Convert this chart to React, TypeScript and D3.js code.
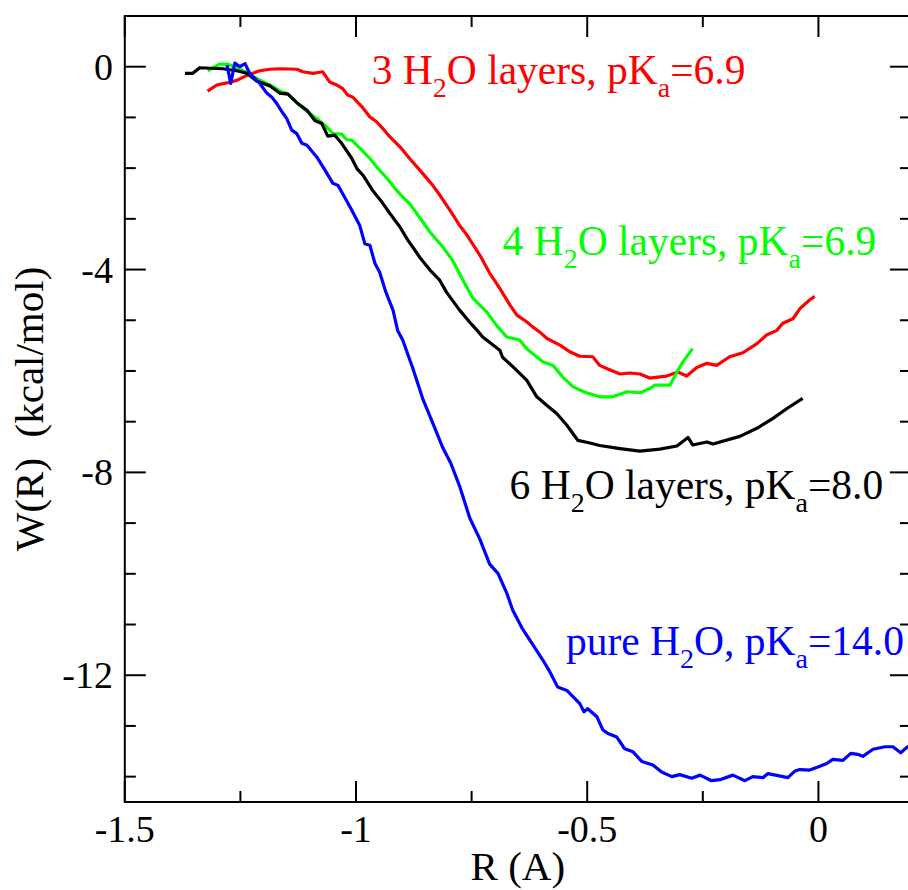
import React from 'react';
import * as d3 from 'd3';

const FONT = "'Liberation Serif'";

// ---- axis ticks ----
const xTickValues = [-1.5, -1, -0.5, 0];
const xTickLabels = ['-1.5', '-1', '-0.5', '0'];
const xMinorValues = [-1.25, -0.75, -0.25];
const yTickValues = [0, -4, -8, -12];
const yTickLabels = ['0', '-4', '-8', '-12'];
const yMinorValues = [-1, -2, -3, -5, -6, -7, -9, -10, -11, -13, -14];

// ---- 3 H2O layers (red) ----
const r3 = [-1.321,-1.301,-1.279,-1.258,-1.236,-1.208,-1.186,-1.165,-1.128,-1.115,
  -1.093,-1.072,-1.057,-1.042,-1.029,-1.018,-1.007,-0.987,-0.970,-0.955,
  -0.942,-0.927,-0.905,-0.884,-0.862,-0.834,-0.819,-0.797,-0.776,-0.760,
  -0.732,-0.711,-0.689,-0.667,-0.652,-0.631,-0.618,-0.603,-0.587,-0.559,
  -0.538,-0.516,-0.488,-0.473,-0.458,-0.429,-0.408,-0.386,-0.365,-0.328,
  -0.304,-0.285,-0.263,-0.241,-0.220,-0.192,-0.163,-0.133,-0.112,-0.090,
  -0.077,-0.055,-0.040,-0.019,-0.008];
const w3 = [-0.48,-0.36,-0.32,-0.27,-0.17,-0.08,-0.05,-0.04,-0.05,-0.10,
  -0.13,-0.10,-0.30,-0.36,-0.43,-0.56,-0.60,-0.79,-0.99,-1.09,
  -1.22,-1.38,-1.58,-1.81,-2.04,-2.34,-2.53,-2.83,-3.13,-3.32,
  -3.72,-4.07,-4.37,-4.70,-4.90,-5.03,-5.13,-5.23,-5.36,-5.49,
  -5.62,-5.71,-5.72,-5.89,-5.95,-6.06,-6.04,-6.06,-6.14,-6.10,
  -6.02,-6.10,-5.93,-5.85,-5.89,-5.72,-5.64,-5.46,-5.29,-5.20,
  -5.06,-4.97,-4.77,-4.60,-4.53];

// ---- 4 H2O layers (green) ----
const r4 = [-1.321,-1.295,-1.277,-1.245,-1.215,-1.186,-1.160,-1.150,-1.115,-1.085,
  -1.063,-1.050,-1.031,-1.020,-1.009,-0.987,-0.970,-0.955,-0.933,-0.912,
  -0.899,-0.884,-0.869,-0.840,-0.812,-0.791,-0.771,-0.747,-0.717,-0.696,
  -0.674,-0.646,-0.631,-0.596,-0.574,-0.553,-0.531,-0.505,-0.473,-0.445,
  -0.414,-0.386,-0.365,-0.354,-0.321,-0.306,-0.293,-0.272];
const w4 = [-0.08,0.05,0.05,-0.07,-0.23,-0.36,-0.50,-0.52,-0.82,-1.02,
  -1.19,-1.32,-1.33,-1.44,-1.45,-1.65,-1.81,-1.98,-2.20,-2.44,
  -2.57,-2.70,-2.89,-3.26,-3.56,-3.82,-4.17,-4.57,-4.84,-5.10,
  -5.33,-5.39,-5.56,-5.82,-5.89,-6.12,-6.31,-6.42,-6.51,-6.51,
  -6.41,-6.43,-6.35,-6.28,-6.28,-6.02,-5.82,-5.56];

// ---- 6 H2O layers (black) ----
const r6 = [-1.370,-1.353,-1.338,-1.288,-1.258,-1.236,-1.215,-1.186,-1.165,-1.147,
  -1.128,-1.106,-1.089,-1.074,-1.061,-1.046,-1.031,-1.009,-0.998,-0.985,
  -0.964,-0.944,-0.927,-0.905,-0.888,-0.877,-0.862,-0.840,-0.819,-0.804,
  -0.776,-0.754,-0.739,-0.726,-0.689,-0.683,-0.657,-0.631,-0.609,-0.587,
  -0.566,-0.544,-0.520,-0.494,-0.473,-0.429,-0.386,-0.343,-0.306,-0.282,
  -0.272,-0.241,-0.228,-0.170,-0.133,-0.099,-0.068,-0.034];
const w6 = [-0.13,-0.13,-0.02,-0.04,-0.08,-0.13,-0.28,-0.38,-0.52,-0.54,
  -0.71,-0.86,-1.06,-1.12,-1.37,-1.35,-1.51,-1.81,-2.01,-2.14,
  -2.44,-2.67,-2.89,-3.16,-3.42,-3.56,-3.76,-4.01,-4.21,-4.45,
  -4.80,-5.04,-5.19,-5.33,-5.59,-5.73,-5.95,-6.18,-6.51,-6.68,
  -6.84,-7.07,-7.37,-7.42,-7.47,-7.53,-7.58,-7.54,-7.48,-7.31,
  -7.46,-7.40,-7.44,-7.29,-7.13,-6.94,-6.74,-6.54];

// ---- pure H2O (blue) ----
const rPure = [-1.279,-1.271,-1.262,-1.251,-1.240,-1.230,-1.208,-1.193,-1.182,-1.171,
  -1.160,-1.150,-1.139,-1.128,-1.117,-1.106,-1.085,-1.067,-1.050,-1.039,
  -1.029,-1.009,-0.992,-0.981,-0.970,-0.959,-0.949,-0.936,-0.920,-0.910,
  -0.899,-0.877,-0.856,-0.834,-0.812,-0.795,-0.776,-0.754,-0.732,-0.711,
  -0.693,-0.674,-0.661,-0.641,-0.624,-0.596,-0.581,-0.564,-0.544,-0.516,
  -0.507,-0.499,-0.479,-0.466,-0.455,-0.436,-0.419,-0.401,-0.382,-0.358,
  -0.339,-0.317,-0.300,-0.274,-0.256,-0.231,-0.213,-0.185,-0.159,-0.142,
  -0.120,-0.109,-0.066,-0.051,-0.040,-0.019,-0.001,0.018,0.031,0.053,
  0.070,0.085,0.096,0.118,0.144,0.161,0.178,0.193,0.208];
const wPure = [0.03,-0.33,0.07,0.00,0.06,-0.13,-0.33,-0.52,-0.60,-0.73,
  -0.89,-1.02,-1.25,-1.32,-1.51,-1.55,-1.78,-2.04,-2.30,-2.34,
  -2.50,-2.83,-3.13,-3.49,-3.52,-3.88,-4.05,-4.43,-4.80,-5.20,
  -5.39,-5.95,-6.54,-7.03,-7.52,-7.82,-8.27,-8.90,-9.32,-9.81,
  -9.99,-10.38,-10.72,-11.07,-11.31,-11.70,-11.93,-12.23,-12.30,-12.56,
  -12.72,-12.66,-12.82,-13.08,-13.15,-13.22,-13.45,-13.51,-13.70,-13.77,
  -13.91,-14.00,-13.96,-14.03,-13.97,-14.08,-14.06,-13.97,-14.08,-14.00,
  -14.02,-13.94,-14.02,-13.89,-13.86,-13.87,-13.81,-13.74,-13.66,-13.68,
  -13.54,-13.56,-13.60,-13.46,-13.41,-13.41,-13.53,-13.41,-13.36];

// ---- annotation texts: [text, isSubscript] ----
const label3 = [['3 H', false], ['2', true], ['O layers, pK', false], ['a', true], ['=6.9', false]];
const label4 = [['4 H', false], ['2', true], ['O layers, pK', false], ['a', true], ['=6.9', false]];
const label6 = [['6 H', false], ['2', true], ['O layers, pK', false], ['a', true], ['=8.0', false]];
const labelPure = [['pure H', false], ['2', true], ['O, pK', false], ['a', true], ['=14.0', false]];

// anchor of each annotation in data units (start x, baseline y)
const label3At = [-0.966, -0.345];
const label4At = [-0.683, -3.72];
const label6At = [-0.668, -8.53];
const labelPureAt = [-0.546, -11.61];

const series = [
  { r: r3, w: w3, color: '#ff0000', label: label3, at: label3At },
  { r: r4, w: w4, color: '#00ff00', label: label4, at: label4At },
  { r: r6, w: w6, color: '#000000', label: label6, at: label6At },
  { r: rPure, w: wPure, color: '#0000ff', label: labelPure, at: labelPureAt },
];

const LABEL_SIZE = 41.5;
const SUB_SIZE = 28;
const SUB_SHIFT = 13;

function Annotation({ x, y, parts, color }: any) {
  const spans: any[] = [];
  let prevSub = false;
  parts.forEach((p: any, i: number) => {
    const [t, sub] = p;
    let dy = 0;
    if (sub && !prevSub) dy = SUB_SHIFT;
    if (!sub && prevSub) dy = -SUB_SHIFT;
    spans.push(
      <tspan key={i} dy={dy} style={{ fontSize: (sub ? SUB_SIZE : LABEL_SIZE) + 'px' }}>{t}</tspan>
    );
    prevSub = sub;
  });
  return (
    <text x={x} y={y} fill={color} style={{ fontFamily: FONT, fontSize: LABEL_SIZE + 'px', whiteSpace: 'pre' }}>
      {spans}
    </text>
  );
}

export default function App() {
  const left = 124.8, right = 910.9, top = 16, bottom = 802;
  const x = d3.scaleLinear().domain([-1.5, 0.2]).range([left, right]);
  const y = d3.scaleLinear().domain([-14.5, 1]).range([bottom, top]);
  const line = d3.line<number>()
    .x((d: any) => x(d[0]))
    .y((d: any) => y(d[1]));

  const MAJOR = 21, MINOR = 11;
  const tickFont = 38;
  const textStyle = (size: number) => ({ fontFamily: FONT, fontSize: size + 'px', whiteSpace: 'pre' as const });

  return (
    <svg width={908} height={890} style={{ position: 'absolute', left: 0, top: 0, background: '#fff' }}>
      <rect x={0} y={0} width={908} height={890} fill="#fff" />
      <defs>
        <clipPath id="plotclip">
          <rect x={left} y={top} width={right - left} height={bottom - top} />
        </clipPath>
      </defs>

      {/* curves */}
      <g clipPath="url(#plotclip)">
        {series.map((s, i) => (
          <path key={i}
            d={(line as any)(s.r.map((r, j) => [r, s.w[j]]))}
            fill="none" stroke={s.color} strokeWidth={3.2} strokeLinejoin="round" />
        ))}
      </g>

      {/* frame */}
      <rect x={left} y={top} width={right - left} height={bottom - top}
        fill="none" stroke="#000" strokeWidth={2} />

      {/* x ticks bottom & top */}
      {xTickValues.map(v => (
        <g key={'xm' + v}>
          <line x1={x(v)} x2={x(v)} y1={bottom} y2={bottom - MAJOR} stroke="#000" strokeWidth={2} />
          <line x1={x(v)} x2={x(v)} y1={top} y2={top + MAJOR} stroke="#000" strokeWidth={2} />
        </g>
      ))}
      {xMinorValues.map(v => (
        <g key={'xn' + v}>
          <line x1={x(v)} x2={x(v)} y1={bottom} y2={bottom - MINOR} stroke="#000" strokeWidth={2} />
          <line x1={x(v)} x2={x(v)} y1={top} y2={top + MINOR} stroke="#000" strokeWidth={2} />
        </g>
      ))}
      {/* y ticks left & right */}
      {yTickValues.map(v => (
        <g key={'ym' + v}>
          <line x1={left} x2={left + MAJOR} y1={y(v)} y2={y(v)} stroke="#000" strokeWidth={2} />
          <line x1={right} x2={right - MAJOR} y1={y(v)} y2={y(v)} stroke="#000" strokeWidth={2} />
        </g>
      ))}
      {yMinorValues.map(v => (
        <g key={'yn' + v}>
          <line x1={left} x2={left + MINOR} y1={y(v)} y2={y(v)} stroke="#000" strokeWidth={2} />
          <line x1={right} x2={right - MINOR} y1={y(v)} y2={y(v)} stroke="#000" strokeWidth={2} />
        </g>
      ))}

      {/* tick labels */}
      {xTickValues.map((v, i) => (
        <text key={'xl' + v} x={x(v)} y={842} textAnchor="middle"
          style={textStyle(tickFont)} fill="#000">{xTickLabels[i]}</text>
      ))}
      {yTickValues.map((v, i) => (
        <text key={'yl' + v} x={113} y={y(v) + 13} textAnchor="end"
          style={textStyle(tickFont)} fill="#000">{yTickLabels[i]}</text>
      ))}

      {/* axis titles */}
      <text x={(left + right) / 2} y={880} textAnchor="middle"
        style={textStyle(41)} fill="#000">R (A)</text>
      <text transform={`translate(43,${(top + bottom) / 2}) rotate(-90)`} textAnchor="middle"
        style={textStyle(41)} fill="#000">{'W(R)  (kcal/mol)'}</text>

      {/* annotations */}
      {series.map((s, i) => (
        <Annotation key={'a' + i} x={x(s.at[0])} y={y(s.at[1])} parts={s.label} color={s.color} />
      ))}
    </svg>
  );
}
